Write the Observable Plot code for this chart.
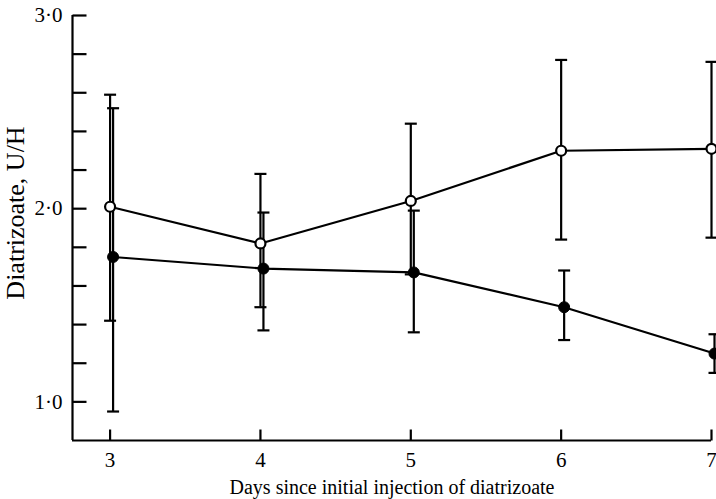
<!DOCTYPE html>
<html>
<head>
<meta charset="utf-8">
<script src="https://cdn.jsdelivr.net/npm/d3@7"></script>
<script src="https://cdn.jsdelivr.net/npm/@observablehq/plot@0.6"></script>
<style>
  html, body { margin: 0; padding: 0; background: #fff; }
</style>
</head>
<body>
<div id="chart"></div>
<script>
// ---- data ----
const days = [3, 4, 5, 6, 7];
const openMean  = [2.01, 1.82, 2.04, 2.30, 2.31];
const openUpper = [2.59, 2.18, 2.44, 2.77, 2.76];
const openLower = [1.42, 1.49, 1.66, 1.84, 1.85];
const filledMean  = [1.75, 1.69, 1.67, 1.49, 1.25];
const filledUpper = [2.52, 1.98, 1.99, 1.68, 1.35];
const filledLower = [0.95, 1.37, 1.36, 1.32, 1.15];

const xTickValues = [3, 4, 5, 6, 7];
const yTickValues = [1.0, 1.2, 1.4, 1.6, 1.8, 2.0, 2.2, 2.4, 2.6, 2.8, 3.0];
const yLabelValues = [1.0, 2.0, 3.0];
const xDomain = [2.75, 7];
const yDomain = [0.8, 3.0];
const xTitle = "Days since initial injection of diatrizoate";
const yTitle = "Diatrizoate, U/H";

const openRows = days.map((d, i) => ({day: d, mean: openMean[i], lo: openLower[i], hi: openUpper[i]}));
const filledRows = days.map((d, i) => ({day: d, mean: filledMean[i], lo: filledLower[i], hi: filledUpper[i]}));

const capSymbol = {draw(ctx) { ctx.moveTo(-6, 0); ctx.lineTo(6, 0); }};
const yTickSymbol = {draw(ctx) { ctx.moveTo(0, 0); ctx.lineTo(14, 0); }};
const xTickSymbol = {draw(ctx) { ctx.moveTo(0, 0); ctx.lineTo(0, -11); }};

const font = "'Liberation Serif', 'DejaVu Serif', serif";
const sw = 2.2;
const fdx = 3; // filled series drawn slightly offset, as in the original

const chart = Plot.plot({
  width: 716,
  height: 499,
  marginLeft: 72,
  marginRight: 5,
  marginTop: 15,
  marginBottom: 59,
  style: {fontFamily: font, fontSize: "20px", color: "#000", background: "#fff"},
  x: {domain: xDomain, axis: null},
  y: {domain: yDomain, axis: null},
  marks: [
    // axes lines
    Plot.ruleX([xDomain[0]], {stroke: "black", strokeWidth: sw}),
    Plot.ruleY([yDomain[0]], {stroke: "black", strokeWidth: sw}),
    // inward ticks
    Plot.dot(yTickValues, {y: d => d, frameAnchor: "left", symbol: yTickSymbol, stroke: "black", fill: "none", strokeWidth: sw}),
    Plot.dot(xTickValues, {x: d => d, frameAnchor: "bottom", symbol: xTickSymbol, stroke: "black", fill: "none", strokeWidth: sw}),
    // tick labels
    Plot.text(yLabelValues, {y: d => d, frameAnchor: "left", dx: -10, textAnchor: "end", lineAnchor: "middle", text: d => d.toFixed(1).replace(".", "\u00b7"), fontSize: 21, fill: "black"}),
    Plot.text(xTickValues, {x: d => d, frameAnchor: "bottom", dy: 20, textAnchor: "middle", lineAnchor: "middle", text: d => String(d), fontSize: 21, fill: "black"}),
    // titles
    Plot.text([xTitle], {frameAnchor: "bottom", dy: 47, textAnchor: "middle", lineAnchor: "middle", text: d => d, fontSize: 20, fill: "black"}),
    Plot.text([yTitle], {frameAnchor: "left", dx: -57, dy: -15, rotate: -90, textAnchor: "middle", lineAnchor: "middle", text: d => d, fontSize: 26, letterSpacing: "1px", fill: "black"}),
    // error bars
    Plot.ruleX(openRows, {x: "day", y1: "lo", y2: "hi", stroke: "black", strokeWidth: sw}),
    Plot.dot(openRows, {x: "day", y: "hi", symbol: capSymbol, stroke: "black", fill: "none", strokeWidth: sw}),
    Plot.dot(openRows, {x: "day", y: "lo", symbol: capSymbol, stroke: "black", fill: "none", strokeWidth: sw}),
    Plot.ruleX(filledRows, {x: "day", y1: "lo", y2: "hi", dx: fdx, stroke: "black", strokeWidth: sw}),
    Plot.dot(filledRows, {x: "day", y: "hi", dx: fdx, symbol: capSymbol, stroke: "black", fill: "none", strokeWidth: sw}),
    Plot.dot(filledRows, {x: "day", y: "lo", dx: fdx, symbol: capSymbol, stroke: "black", fill: "none", strokeWidth: sw}),
    // lines
    Plot.line(openRows, {x: "day", y: "mean", stroke: "black", strokeWidth: sw}),
    Plot.line(filledRows, {x: "day", y: "mean", dx: fdx, stroke: "black", strokeWidth: sw}),
    // points
    Plot.dot(openRows, {x: "day", y: "mean", r: 5, fill: "white", stroke: "black", strokeWidth: sw}),
    Plot.dot(filledRows, {x: "day", y: "mean", dx: fdx, r: 5.5, fill: "black", stroke: "black", strokeWidth: 1})
  ]
});
document.getElementById("chart").appendChild(chart);
</script>
</body>
</html>
